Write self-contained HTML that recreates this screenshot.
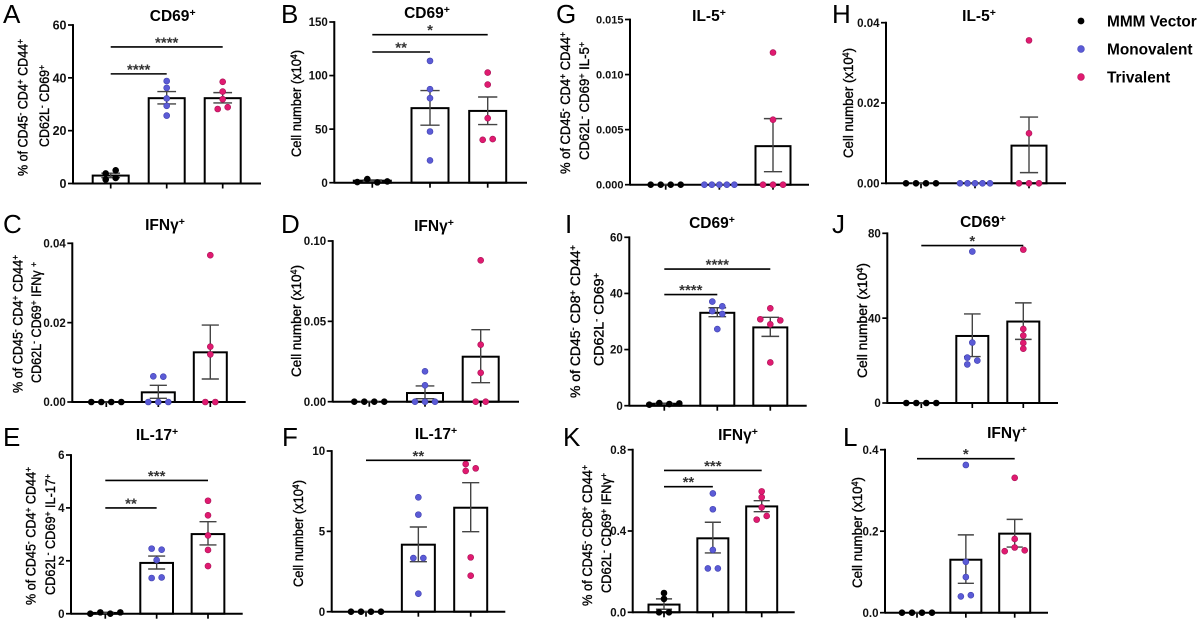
<!DOCTYPE html>
<html lang="en">
<head>
<meta charset="utf-8">
<title>T cell response panels</title>
<style>
  html, body { margin: 0; padding: 0; background: #fff; }
  svg { display: block; font-family: "Liberation Sans", sans-serif; filter: blur(0.3px); }
  .letter { font-size: 26px; fill: #000; }
  .title { font-size: 15.5px; font-weight: bold; fill: #000; text-anchor: middle; }
  .ytitle { font-size: 13.5px; fill: #000; stroke: #000; stroke-width: .35px; text-anchor: middle; }
  .legend-text { font-size: 15.4px; font-weight: bold; fill: #000; }
  .tick-label { font-weight: bold; fill: #111; text-anchor: end; }
  .stars { font-size: 15px; font-weight: bold; fill: #333; text-anchor: middle; }
</style>
</head>
<body>
<svg id="figure" width="1200" height="620" viewBox="0 0 1200 620" xmlns="http://www.w3.org/2000/svg">
  <g>
    <text class="letter" x="3" y="23">A</text>
    <text class="letter" x="281" y="23">B</text>
    <text class="letter" x="556" y="23">G</text>
    <text class="letter" x="832" y="23">H</text>
    <text class="letter" x="3" y="233">C</text>
    <text class="letter" x="281" y="233">D</text>
    <text class="letter" x="565" y="233">I</text>
    <text class="letter" x="832" y="233">J</text>
    <text class="letter" x="3" y="446">E</text>
    <text class="letter" x="282" y="446">F</text>
    <text class="letter" x="563" y="446">K</text>
    <text class="letter" x="843" y="446">L</text>
  </g>

  <g>
    <text class="title" x="172.7" y="21">CD69<tspan font-size="10.5" baseline-shift="45%">+</tspan></text>
    <text class="title" x="427" y="18">CD69<tspan font-size="10.5" baseline-shift="45%">+</tspan></text>
    <text class="title" x="709" y="21">IL-5<tspan font-size="10.5" baseline-shift="45%">+</tspan></text>
    <text class="title" x="979" y="21">IL-5<tspan font-size="10.5" baseline-shift="45%">+</tspan></text>
    <text class="title" x="165" y="230">IFNγ<tspan font-size="10.5" baseline-shift="45%">+</tspan></text>
    <text class="title" x="434" y="231">IFNγ<tspan font-size="10.5" baseline-shift="45%">+</tspan></text>
    <text class="title" x="712" y="228">CD69<tspan font-size="10.5" baseline-shift="45%">+</tspan></text>
    <text class="title" x="983" y="227">CD69<tspan font-size="10.5" baseline-shift="45%">+</tspan></text>
    <text class="title" x="157" y="440">IL-17<tspan font-size="10.5" baseline-shift="45%">+</tspan></text>
    <text class="title" x="436" y="439">IL-17<tspan font-size="10.5" baseline-shift="45%">+</tspan></text>
    <text class="title" x="738" y="440">IFNγ<tspan font-size="10.5" baseline-shift="45%">+</tspan></text>
    <text class="title" x="1007" y="438">IFNγ<tspan font-size="10.5" baseline-shift="45%">+</tspan></text>
  </g>

  <g>
    <text class="ytitle" transform="translate(27.5,107.5) rotate(-90)" textLength="137" lengthAdjust="spacingAndGlyphs">% of CD45<tspan font-size="9" baseline-shift="45%">-</tspan> CD4<tspan font-size="9" baseline-shift="45%">+</tspan> CD44<tspan font-size="9" baseline-shift="45%">+</tspan></text>
    <text class="ytitle" transform="translate(49,106) rotate(-90)" textLength="82" lengthAdjust="spacingAndGlyphs">CD62L<tspan font-size="9" baseline-shift="45%">-</tspan> CD69<tspan font-size="9" baseline-shift="45%">+</tspan></text>
    <text class="ytitle" transform="translate(301,103.5) rotate(-90)" textLength="107" lengthAdjust="spacingAndGlyphs">Cell number (x10<tspan font-size="9" baseline-shift="45%">4</tspan>)</text>
    <text class="ytitle" transform="translate(570,103) rotate(-90)" textLength="142" lengthAdjust="spacingAndGlyphs">% of CD45<tspan font-size="9" baseline-shift="45%">-</tspan> CD4<tspan font-size="9" baseline-shift="45%">+</tspan> CD44<tspan font-size="9" baseline-shift="45%">+</tspan></text>
    <text class="ytitle" transform="translate(589,101) rotate(-90)" textLength="118" lengthAdjust="spacingAndGlyphs">CD62L<tspan font-size="9" baseline-shift="45%">-</tspan> CD69<tspan font-size="9" baseline-shift="45%">+</tspan> IL-5<tspan font-size="9" baseline-shift="45%">+</tspan></text>
    <text class="ytitle" transform="translate(853,103) rotate(-90)" textLength="110" lengthAdjust="spacingAndGlyphs">Cell number (x10<tspan font-size="9" baseline-shift="45%">4</tspan>)</text>
    <text class="ytitle" transform="translate(22.5,324) rotate(-90)" textLength="138" lengthAdjust="spacingAndGlyphs">% of CD45<tspan font-size="9" baseline-shift="45%">-</tspan> CD4<tspan font-size="9" baseline-shift="45%">+</tspan> CD44<tspan font-size="9" baseline-shift="45%">+</tspan></text>
    <text class="ytitle" transform="translate(41,322.5) rotate(-90)" textLength="121" lengthAdjust="spacingAndGlyphs">CD62L<tspan font-size="9" baseline-shift="45%">-</tspan> CD69<tspan font-size="9" baseline-shift="45%">+</tspan> IFNγ <tspan font-size="9" baseline-shift="45%">+</tspan></text>
    <text class="ytitle" transform="translate(301,321) rotate(-90)" textLength="112" lengthAdjust="spacingAndGlyphs">Cell number (x10<tspan font-size="9" baseline-shift="45%">4</tspan>)</text>
    <text class="ytitle" transform="translate(580,321.5) rotate(-90)" textLength="153" lengthAdjust="spacingAndGlyphs">% of CD45<tspan font-size="9" baseline-shift="45%">-</tspan> CD8<tspan font-size="9" baseline-shift="45%">+</tspan> CD44<tspan font-size="9" baseline-shift="45%">+</tspan></text>
    <text class="ytitle" transform="translate(603.5,319.5) rotate(-90)" textLength="93" lengthAdjust="spacingAndGlyphs">CD62L<tspan font-size="9" baseline-shift="45%">-</tspan> CD69<tspan font-size="9" baseline-shift="45%">+</tspan></text>
    <text class="ytitle" transform="translate(867,320.5) rotate(-90)" textLength="115" lengthAdjust="spacingAndGlyphs">Cell number (x10<tspan font-size="9" baseline-shift="45%">4</tspan>)</text>
    <text class="ytitle" transform="translate(35.5,536) rotate(-90)" textLength="138" lengthAdjust="spacingAndGlyphs">% of CD45<tspan font-size="9" baseline-shift="45%">-</tspan> CD4<tspan font-size="9" baseline-shift="45%">+</tspan> CD44<tspan font-size="9" baseline-shift="45%">+</tspan></text>
    <text class="ytitle" transform="translate(55,534.5) rotate(-90)" textLength="121" lengthAdjust="spacingAndGlyphs">CD62L<tspan font-size="9" baseline-shift="45%">-</tspan> CD69<tspan font-size="9" baseline-shift="45%">+</tspan> IL-17<tspan font-size="9" baseline-shift="45%">+</tspan></text>
    <text class="ytitle" transform="translate(303,533.5) rotate(-90)" textLength="107" lengthAdjust="spacingAndGlyphs">Cell number (x10<tspan font-size="9" baseline-shift="45%">4</tspan>)</text>
    <text class="ytitle" transform="translate(592,535.5) rotate(-90)" textLength="141" lengthAdjust="spacingAndGlyphs">% of CD45<tspan font-size="9" baseline-shift="45%">-</tspan> CD8<tspan font-size="9" baseline-shift="45%">+</tspan> CD44<tspan font-size="9" baseline-shift="45%">+</tspan></text>
    <text class="ytitle" transform="translate(611,533) rotate(-90)" textLength="120" lengthAdjust="spacingAndGlyphs">CD62L<tspan font-size="9" baseline-shift="45%">-</tspan> CD69<tspan font-size="9" baseline-shift="45%">+</tspan> IFNγ<tspan font-size="9" baseline-shift="45%">+</tspan></text>
    <text class="ytitle" transform="translate(862,532.5) rotate(-90)" textLength="111" lengthAdjust="spacingAndGlyphs">Cell number (x10<tspan font-size="9" baseline-shift="45%">4</tspan>)</text>
  </g>

  <g>
    <g>
      <circle cx="1081" cy="21" r="3.4" fill="#000"/>
      <text class="legend-text" x="1107" y="26.5">MMM Vector</text>
    </g>
    <g>
      <circle cx="1081" cy="49" r="3.4" fill="#5b5bd6" stroke="#4545b8" stroke-width=".6"/>
      <text class="legend-text" x="1107" y="54.5">Monovalent</text>
    </g>
    <g>
      <circle cx="1081" cy="77" r="3.4" fill="#e01a70" stroke="#b5145a" stroke-width=".6"/>
      <text class="legend-text" x="1107" y="82.5">Trivalent</text>
    </g>
  </g>
</svg>

<script>
const categories = ['MMM Vector', 'Monovalent', 'Trivalent'];

const panelATickLabels = ['0', '20', '40', '60'];
const panelATicks = [0, 20, 40, 60];
const panelAMeans = [3.0, 32.3, 32.3];
const panelASemLow = [2.2, 30.1, 30.5];
const panelASemHigh = [3.9, 34.8, 34.4];
const panelAVector = [3.8, 5, 1.5, 2.1];
const panelAMonovalent = [38.8, 36.2, 32.2, 29.4, 25.7];
const panelATrivalent = [38.5, 34.8, 31.9, 28.2, 28.9];
const panelASigLevels = [41.5, 51.7];
const panelASigStars = ['****', '****'];
const panelASigTargets = [1, 2];

const panelBTickLabels = ['0', '50', '100', '150'];
const panelBTicks = [0, 50, 100, 150];
const panelBMeans = [1.9, 69.6, 67];
const panelBSemLow = [1.2, 53.7, 54.3];
const panelBSemHigh = [2.6, 86, 80];
const panelBVector = [0.6, 3.4, 0.3, 1.2];
const panelBMonovalent = [113.7, 87.3, 78.9, 47.8, 20.8];
const panelBTrivalent = [102.8, 91.6, 60.2, 40, 40.7];
const panelBSigLevels = [122, 138.2];
const panelBSigStars = ['**', '*'];
const panelBSigTargets = [1, 2];

const panelCTickLabels = ['0.00', '0.02', '0.04'];
const panelCTicks = [0, 0.02, 0.04];
const panelCMeans = [0, 0.00244, 0.01252];
const panelCSemLow = [0, 0.00092, 0.0058];
const panelCSemHigh = [0, 0.0042, 0.0194];
const panelCVector = [0, 0, 0, 0];
const panelCMonovalent = [0.00647, 0.00639, 0, 0, 0];
const panelCTrivalent = [0.037, 0.01395, 0.012, 0, 0];
const panelCSigLevels = [];
const panelCSigStars = [];
const panelCSigTargets = [];

const panelDTickLabels = ['0.00', '0.05', '0.10'];
const panelDTicks = [0, 0.05, 0.10];
const panelDMeans = [0, 0.0054, 0.028];
const panelDSemLow = [0, 0.0019, 0.0118];
const panelDSemHigh = [0, 0.0098, 0.0448];
const panelDVector = [0, 0, 0, 0];
const panelDMonovalent = [0.0189, 0.0102, 0, 0, 0];
const panelDTrivalent = [0.088, 0.0355, 0.018, 0, 0];
const panelDSigLevels = [];
const panelDSigStars = [];
const panelDSigTargets = [];

const panelETickLabels = ['0', '2', '4', '6'];
const panelETicks = [0, 2, 4, 6];
const panelEMeans = [0.03, 1.92, 3.01];
const panelESemLow = [0.01, 1.69, 2.6];
const panelESemHigh = [0.05, 2.18, 3.48];
const panelEVector = [0, 0.05, 0, 0.05];
const panelEMonovalent = [2.46, 2.42, 2.03, 1.35, 1.37];
const panelETrivalent = [4.27, 3.72, 2.96, 2.41, 1.8];
const panelESigLevels = [4.0, 5.04];
const panelESigStars = ['**', '***'];
const panelESigTargets = [1, 2];

const panelFTickLabels = ['0', '5', '10'];
const panelFTicks = [0, 5, 10];
const panelFMeans = [0, 4.17, 6.47];
const panelFSemLow = [0, 3.11, 4.98];
const panelFSemHigh = [0, 5.27, 8.03];
const panelFVector = [0, 0, 0, 0];
const panelFMonovalent = [7.12, 6.04, 3.34, 3.34, 1.12];
const panelFTrivalent = [9.19, 8.92, 8.76, 3.38, 2.24];
const panelFSigLevels = [9.42];
const panelFSigStars = ['**'];
const panelFSigTargets = [2];

const panelGTickLabels = ['0.000', '0.005', '0.010', '0.015'];
const panelGTicks = [0, 0.005, 0.010, 0.015];
const panelGMeans = [0, 0, 0.0035];
const panelGSemLow = [0, 0, 0.00118];
const panelGSemHigh = [0, 0, 0.006];
const panelGVector = [0, 0, 0, 0];
const panelGMonovalent = [0, 0, 0, 0, 0];
const panelGTrivalent = [0.012, 0.0059, 0, 0, 0];
const panelGSigLevels = [];
const panelGSigStars = [];
const panelGSigTargets = [];

const panelHTickLabels = ['0.00', '0.02', '0.04'];
const panelHTicks = [0, 0.02, 0.04];
const panelHMeans = [0, 0, 0.00938];
const panelHSemLow = [0, 0, 0.00266];
const panelHSemHigh = [0, 0, 0.0165];
const panelHVector = [0, 0, 0, 0];
const panelHMonovalent = [0, 0, 0, 0, 0];
const panelHTrivalent = [0.0356, 0.01245, 0, 0, 0];
const panelHSigLevels = [];
const panelHSigStars = [];
const panelHSigTargets = [];

const panelITickLabels = ['0', '20', '40', '60'];
const panelITicks = [0, 20, 40, 60];
const panelIMeans = [0.7, 33.1, 27.9];
const panelISemLow = [0.5, 31.7, 24.7];
const panelISemHigh = [0.9, 34.9, 31.5];
const panelIVector = [0.36, 0.95, 0.6, 0.83];
const panelIMonovalent = [37.1, 35.4, 33.7, 32.7, 27.3];
const panelITrivalent = [34.7, 30.8, 30.4, 29, 15.4];
const panelISigLevels = [39.6, 48.7];
const panelISigStars = ['****', '****'];
const panelISigTargets = [1, 2];

const panelJTickLabels = ['0', '40', '80'];
const panelJTicks = [0, 40, 80];
const panelJMeans = [0, 31.6, 38.4];
const panelJSemLow = [0, 21.9, 30];
const panelJSemHigh = [0, 42, 47.2];
const panelJVector = [0, 0, 0, 0];
const panelJMonovalent = [71.4, 28.5, 21.4, 20, 18.2];
const panelJTrivalent = [72.3, 34.9, 31.8, 28.3, 25.6];
const panelJSigLevels = [74.2];
const panelJSigStars = ['*'];
const panelJSigTargets = [2];

const panelKTickLabels = ['0.0', '0.4', '0.8'];
const panelKTicks = [0, 0.4, 0.8];
const panelKMeans = [0.038, 0.364, 0.521];
const panelKSemLow = [0.015, 0.292, 0.495];
const panelKSemHigh = [0.066, 0.443, 0.549];
const panelKVector = [0.095, 0.066, 0, 0];
const panelKMonovalent = [0.585, 0.507, 0.307, 0.216, 0.216];
const panelKTrivalent = [0.595, 0.566, 0.516, 0.456, 0.474];
const panelKSigLevels = [0.618, 0.698];
const panelKSigStars = ['**', '***'];
const panelKSigTargets = [1, 2];

const panelLTickLabels = ['0.0', '0.2', '0.4'];
const panelLTicks = [0, 0.2, 0.4];
const panelLMeans = [0, 0.13, 0.194];
const panelLSemLow = [0, 0.072, 0.161];
const panelLSemHigh = [0, 0.191, 0.229];
const panelLVector = [0, 0, 0, 0];
const panelLMonovalent = [0.3625, 0.125, 0.0876, 0.04, 0.043];
const panelLTrivalent = [0.331, 0.181, 0.16, 0.151, 0.153];
const panelLSigLevels = [0.378];
const panelLSigStars = ['*'];
const panelLSigTargets = [2];

/* Frame geometry and dodge of overlapping markers (layout only, no values). */
const dodgeFour = [-3, -1, 1, 3];
const dodgeFive = [-3, -1.5, 0, 1.5, 3];
const dodgeNone = [0, 0, 0, 0, 0];
const panels = [
  { id: 'a', ticks: panelATicks, tickLabels: panelATickLabels, means: panelAMeans, low: panelASemLow, high: panelASemHigh,
    groups: [panelAVector, panelAMonovalent, panelATrivalent], sigLevels: panelASigLevels, sigStars: panelASigStars, sigTargets: panelASigTargets,
    axisX: 73, top: 25, base: 183.5, end: 261, firstX: 110.7, step: 56, barW: 36, font: 12.5,
    dodge: [[-1, 1, -1, 1], dodgeNone, [0, 0, 0, -1, 1]] },
  { id: 'b', ticks: panelBTicks, tickLabels: panelBTickLabels, means: panelBMeans, low: panelBSemLow, high: panelBSemHigh,
    groups: [panelBVector, panelBMonovalent, panelBTrivalent], sigLevels: panelBSigLevels, sigStars: panelBSigStars, sigTargets: panelBSigTargets,
    axisX: 334.3, top: 22, base: 182.7, end: 527, firstX: 372.3, step: 57.7, barW: 37, font: 11.5,
    dodge: [dodgeFour, dodgeNone, [0, 0, 0, -1, 1]] },
  { id: 'c', ticks: panelCTicks, tickLabels: panelCTickLabels, means: panelCMeans, low: panelCSemLow, high: panelCSemHigh,
    groups: [panelCVector, panelCMonovalent, panelCTrivalent], sigLevels: panelCSigLevels, sigStars: panelCSigStars, sigTargets: panelCSigTargets,
    axisX: 72.3, top: 243.3, base: 402, end: 245.7, firstX: 106.3, step: 52, barW: 33, font: 11.5,
    dodge: [dodgeFour, [-1, 1, -2, 0, 2], [0, 0, 0, -1, 1]] },
  { id: 'd', ticks: panelDTicks, tickLabels: panelDTickLabels, means: panelDMeans, low: panelDSemLow, high: panelDSemHigh,
    groups: [panelDVector, panelDMonovalent, panelDTrivalent], sigLevels: panelDSigLevels, sigStars: panelDSigStars, sigTargets: panelDSigTargets,
    axisX: 332.7, top: 241, base: 401.7, end: 519, firstX: 369.3, step: 55.7, barW: 36, font: 11.5,
    dodge: [dodgeFour, [0, 0, -2, 0, 2], [0, 0, 0, -1, 1]] },
  { id: 'e', ticks: panelETicks, tickLabels: panelETickLabels, means: panelEMeans, low: panelESemLow, high: panelESemHigh,
    groups: [panelEVector, panelEMonovalent, panelETrivalent], sigLevels: panelESigLevels, sigStars: panelESigStars, sigTargets: panelESigTargets,
    axisX: 71, top: 455, base: 613.7, end: 242.7, firstX: 105.3, step: 51.35, barW: 32.7, font: 11.5,
    dodge: [dodgeFour, [-1, 1, 0, -1, 1], dodgeNone] },
  { id: 'f', ticks: panelFTicks, tickLabels: panelFTickLabels, means: panelFMeans, low: panelFSemLow, high: panelFSemHigh,
    groups: [panelFVector, panelFMonovalent, panelFTrivalent], sigLevels: panelFSigLevels, sigStars: panelFSigStars, sigTargets: panelFSigTargets,
    axisX: 331.7, top: 451, base: 611.7, end: 505.3, firstX: 366, step: 52.35, barW: 33, font: 11.5,
    dodge: [dodgeFour, [0, 0, -1, 1, 0], [-1, 1, -1, 0, 0]] },
  { id: 'g', ticks: panelGTicks, tickLabels: panelGTickLabels, means: panelGMeans, low: panelGSemLow, high: panelGSemHigh,
    groups: [panelGVector, panelGMonovalent, panelGTrivalent], sigLevels: panelGSigLevels, sigStars: panelGSigStars, sigTargets: panelGSigTargets,
    axisX: 630, top: 19.5, base: 184.7, end: 809, firstX: 665.7, step: 53.65, barW: 35, font: 11,
    dodge: [dodgeFour, dodgeFive, [0, 0, -2, 0, 2]] },
  { id: 'h', ticks: panelHTicks, tickLabels: panelHTickLabels, means: panelHMeans, low: panelHSemLow, high: panelHSemHigh,
    groups: [panelHVector, panelHMonovalent, panelHTrivalent], sigLevels: panelHSigLevels, sigStars: panelHSigStars, sigTargets: panelHSigTargets,
    axisX: 886, top: 22.7, base: 183.3, end: 1066, firstX: 921, step: 54, barW: 35, font: 11.5,
    dodge: [dodgeFour, dodgeFive, [0, 0, -2, 0, 2]] },
  { id: 'i', ticks: panelITicks, tickLabels: panelITickLabels, means: panelIMeans, low: panelISemLow, high: panelISemHigh,
    groups: [panelIVector, panelIMonovalent, panelITrivalent], sigLevels: panelISigLevels, sigStars: panelISigStars, sigTargets: panelISigTargets,
    axisX: 629.3, top: 237.3, base: 405.7, end: 806.7, firstX: 664.3, step: 53, barW: 34, font: 11.5,
    dodge: [dodgeFour, [-1, 1, -1, 1, 0], [0, -2, 2, 0, 0]] },
  { id: 'j', ticks: panelJTicks, tickLabels: panelJTickLabels, means: panelJMeans, low: panelJSemLow, high: panelJSemHigh,
    groups: [panelJVector, panelJMonovalent, panelJTrivalent], sigLevels: panelJSigLevels, sigStars: panelJSigStars, sigTargets: panelJSigTargets,
    axisX: 887.3, top: 233.3, base: 403, end: 1058, firstX: 921.3, step: 51, barW: 32, font: 11.5,
    dodge: [dodgeFour, [0, 0, -1, 1, -1], dodgeNone] },
  { id: 'k', ticks: panelKTicks, tickLabels: panelKTickLabels, means: panelKMeans, low: panelKSemLow, high: panelKSemHigh,
    groups: [panelKVector, panelKMonovalent, panelKTrivalent], sigLevels: panelKSigLevels, sigStars: panelKSigStars, sigTargets: panelKSigTargets,
    axisX: 632.7, top: 449.7, base: 612.3, end: 794.7, firstX: 664, step: 48.85, barW: 31, font: 11.5,
    dodge: [[0, 0, -1, 1], [0, 0, 0, -1, 1], [0, 0, 0, -1, 1]] },
  { id: 'l', ticks: panelLTicks, tickLabels: panelLTickLabels, means: panelLMeans, low: panelLSemLow, high: panelLSemHigh,
    groups: [panelLVector, panelLMonovalent, panelLTrivalent], sigLevels: panelLSigLevels, sigStars: panelLSigStars, sigTargets: panelLSigTargets,
    axisX: 885, top: 449.7, base: 612.7, end: 1048, firstX: 917, step: 48.85, barW: 31, font: 11.5,
    dodge: [dodgeFour, [0, 0, 0, -1, 1], [0, 0, 0, -2, 2]] }
];

const SVG_NS = 'http://www.w3.org/2000/svg';
const DODGE_UNIT = 5;
const dotFill = ['#000000', '#5b5bd6', '#e01a70'];
const dotStroke = ['#000000', '#4040b0', '#a81256'];
const categorySlugs = ['mmm-vector', 'monovalent', 'trivalent'];
const figure = document.getElementById('figure');

function shape(parent, tag, attrs) {
  const el = document.createElementNS(SVG_NS, tag);
  for (const key in attrs) el.setAttribute(key, attrs[key]);
  parent.appendChild(el);
  return el;
}

function drawPanel(p) {
  const maxValue = p.ticks[p.ticks.length - 1];
  const yScale = v => p.base - (v / maxValue) * (p.base - p.top);
  const xScale = i => p.firstX + i * p.step;

  const g = shape(figure, 'g', {});
  
  

  /* bars */
  categories.forEach((name, i) => {
    const barTop = yScale(p.means[i]);
    const bar = shape(g, 'rect', { x: xScale(i) - p.barW / 2, y: barTop, width: p.barW, height: p.base - barTop, fill: '#fff', stroke: '#000', 'stroke-width': 2 });
    
    
  });

  /* y axis */
  const yAxis = shape(g, 'line', { x1: p.axisX, x2: p.axisX, y1: p.top - 0.9, y2: p.base + 0.9, stroke: '#000', 'stroke-width': 2 });
  
  

  p.ticks.forEach((t, i) => {
    const tickY = yScale(t);
    const tick = shape(g, 'line', { x1: p.axisX - 5, x2: p.axisX, y1: tickY, y2: tickY, stroke: '#000', 'stroke-width': 1.7 });
    
    
    const label = shape(g, 'text', { class: 'tick-label', x: p.axisX - 6.5, y: tickY + p.font * 0.36, 'font-size': p.font });
    
    
    label.textContent = p.tickLabels[i];
  });

  /* x axis */
  const xAxis = shape(g, 'line', { x1: p.axisX, x2: p.end, y1: p.base, y2: p.base, stroke: '#000', 'stroke-width': 2 });
  
  

  categories.forEach((name, i) => {
    const tick = shape(g, 'line', { x1: xScale(i), x2: xScale(i), y1: p.base, y2: p.base + 5, stroke: '#000', 'stroke-width': 1.7 });
    
    
  });

  /* error bars */
  categories.forEach((name, i) => {
    const cx = xScale(i);
    const capHalf = p.barW * 0.26;
    const err = shape(g, 'path', {
      d: 'M' + (cx - capHalf) + ' ' + yScale(p.high[i]) + 'H' + (cx + capHalf) +
         'M' + cx + ' ' + yScale(p.high[i]) + 'V' + yScale(p.low[i]) +
         'M' + (cx - capHalf) + ' ' + yScale(p.low[i]) + 'H' + (cx + capHalf),
      fill: 'none', stroke: '#444', 'stroke-width': 1.4
    });
    
    
  });

  /* individual points */
  p.groups.forEach((values, i) => {
    values.forEach((v, k) => {
      const shift = (p.dodge[i][k] || 0) * DODGE_UNIT;
      const dot = shape(g, 'circle', { cx: xScale(i) + shift, cy: yScale(v), r: 3, fill: dotFill[i], stroke: dotStroke[i], 'stroke-width': 0.6 });
      
      
    });
  });

  /* significance brackets */
  p.sigLevels.forEach((level, i) => {
    const bracketY = yScale(level);
    const x1 = xScale(0);
    const x2 = xScale(p.sigTargets[i]);
    const bracket = shape(g, 'line', { x1: x1, x2: x2, y1: bracketY, y2: bracketY, stroke: '#000', 'stroke-width': 1.6 });
    
    
    const stars = shape(g, 'text', { class: 'stars', x: (x1 + x2) / 2, y: bracketY + 0.5 });
    
    
    stars.textContent = p.sigStars[i];
  });
}

panels.forEach(drawPanel);
</script>
</body>
</html>
